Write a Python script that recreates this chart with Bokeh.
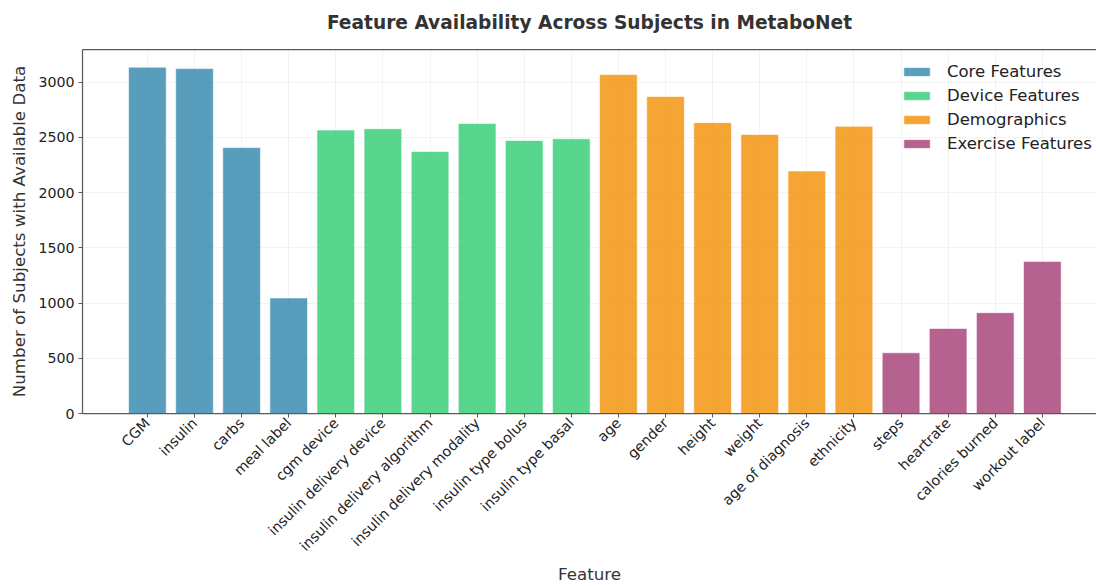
from bokeh.plotting import figure
from bokeh.models import (ColumnDataSource, Range1d, FixedTicker, LinearAxis, Legend, LegendItem)
from bokeh.embed import file_html
from bokeh.resources import INLINE

features = ["CGM", "insulin", "carbs", "meal label",
            "cgm device", "insulin delivery device", "insulin delivery algorithm",
            "insulin delivery modality", "insulin type bolus", "insulin type basal",
            "age", "gender", "height", "weight", "age of diagnosis", "ethnicity",
            "steps", "heartrate", "calories burned", "workout label"]
counts = [3135, 3122, 2407, 1046,
          2566, 2578, 2371, 2626, 2471, 2487,
          3068, 2870, 2633, 2525, 2195, 2600,
          550, 770, 913, 1377]
groups = ["Core Features"] * 4 + ["Device Features"] * 6 + ["Demographics"] * 6 + ["Exercise Features"] * 4
group_names = ["Core Features", "Device Features", "Demographics", "Exercise Features"]
group_colors = ["#2E86AB", "#2ECC71", "#F18F01", "#A23B72"]
y_ticks = [0, 500, 1000, 1500, 2000, 2500, 3000]
title_text = "Feature Availability Across Subjects in MetaboNet"
x_label = "Feature"
y_label = "Number of Subjects with Available Data"

FONT = "DejaVu Sans"
AX = "#5a5a5a"
Y_TOP = 3295

p = figure(width=1096, height=586, output_backend="svg", toolbar_location=None,
           x_range=Range1d(-1.378, 20.15), y_range=Range1d(0, Y_TOP),
           min_border_left=82, min_border_right=0, min_border_top=49, min_border_bottom=173)
p.outline_line_color = None
p.background_fill_color = "white"

p.title.text = title_text
p.title.text_font = FONT
p.title.text_font_size = "18.6px"
p.title.text_font_style = "bold"
p.title.text_color = "#333333"
p.title.align = "center"
p.title.standoff = 4

xs = list(range(len(features)))

# x axis (bottom)
xa = p.below[0]
xa.ticker = FixedTicker(ticks=xs)
xa.major_label_overrides = {i: f for i, f in enumerate(features)}
xa.major_label_orientation = 0.7853981634
xa.minor_tick_line_color = None
xa.major_tick_out = 4
xa.major_tick_in = 0
xa.major_label_standoff = 3
xa.axis_label = x_label
xa.axis_label_standoff = 1

# y axis
ya = p.left[0]
ya.ticker = FixedTicker(ticks=y_ticks)
ya.minor_tick_line_color = None
ya.major_tick_out = 4
ya.major_tick_in = 0
ya.major_label_standoff = 4
ya.axis_label = y_label
ya.axis_label_standoff = 6

for ax in (xa, ya):
    ax.axis_line_color = AX
    ax.axis_line_width = 1.25
    ax.major_tick_line_color = AX
    ax.major_tick_line_width = 1
    ax.major_label_text_font = FONT
    ax.major_label_text_font_size = "14.2px"
    ax.major_label_text_color = "#222222"
    ax.axis_label_text_font = FONT
    ax.axis_label_text_font_size = "16.7px"
    ax.axis_label_text_font_style = "normal"
    ax.axis_label_text_color = "#333333"

# top spine: an axis with invisible ticks and no drawn labels, which also
# lifts the title away from the frame
top_axis = LinearAxis(ticker=FixedTicker(ticks=xs), axis_line_color=AX, axis_line_width=1.25,
                      major_tick_line_color=None, minor_tick_line_color=None,
                      major_tick_out=15, major_tick_in=0, major_label_standoff=0,
                      major_label_text_font_size="0px", major_label_text_color=None,
                      major_label_text_alpha=0)
p.add_layout(top_axis, "above")

items = []
for name, col in zip(group_names, group_colors):
    idx = [i for i, g in enumerate(groups) if g == name]
    src = ColumnDataSource(dict(x=[xs[i] for i in idx], top=[counts[i] for i in idx]))
    r = p.vbar(x="x", top="top", width=0.8, source=src, fill_color=col, fill_alpha=0.8,
               line_color="white", line_alpha=0.6, line_width=1)
    items.append(LegendItem(label=name, renderers=[r]))

legend = Legend(items=items, location=(818, 260), padding=0, margin=0, spacing=4,
                glyph_width=33, glyph_height=11, label_height=20, label_standoff=14,
                label_text_font=FONT, label_text_font_size="16.5px", label_text_color="#222222",
                border_line_color=None, background_fill_alpha=0)
p.add_layout(legend)

p.xgrid.grid_line_color = "#b0b0b0"
p.xgrid.grid_line_alpha = 0.2
p.xgrid.grid_line_width = 0.8
p.xgrid.ticker = xa.ticker
p.ygrid.grid_line_color = "#b0b0b0"
p.ygrid.grid_line_alpha = 0.2
p.ygrid.grid_line_width = 0.8
p.ygrid.ticker = ya.ticker

open("out.html", "w").write(file_html(p, INLINE))
